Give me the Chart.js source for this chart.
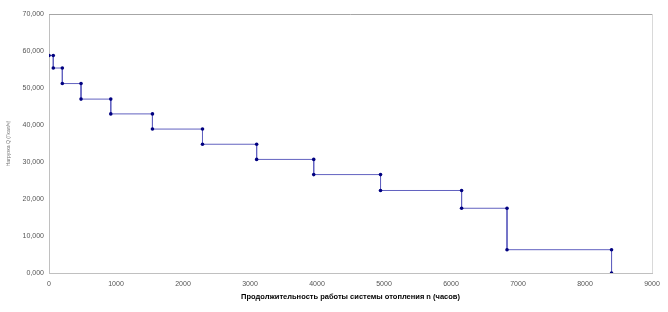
<!DOCTYPE html>
<html>
<head>
<meta charset="utf-8">
<script src="https://cdn.jsdelivr.net/npm/chart.js@4"></script>
<style>
    html, body { margin: 0; padding: 0; background: #fff; }
    #wrap { width: 668px; height: 312px; position: relative; }
</style>
</head>
<body>
<div id="wrap"><canvas id="loadChart"></canvas></div>
<script>
// corners of the step curve
const hours = [0, 64, 64, 199, 199, 478, 478, 922, 922, 1544, 1544, 2291, 2291,
    3099, 3099, 3951, 3951, 4948, 4948, 6158, 6158, 6836, 6836, 8396, 8396];
const loads = [58.8, 58.8, 55.4, 55.4, 51.2, 51.2, 47.0, 47.0, 43.0, 43.0, 38.9, 38.9, 34.8,
    34.8, 30.7, 30.7, 26.6, 26.6, 22.3, 22.3, 17.5, 17.5, 6.3, 6.3, 0];
const xTicks = [0, 1000, 2000, 3000, 4000, 5000, 6000, 7000, 8000, 9000];
const yTicks = [0, 10, 20, 30, 40, 50, 60, 70];

const xTitle = 'Продолжительность работы системы отопления n (часов)';
const yTitle = 'Нагрузка Q (Гкал/ч)';

const points = hours.map((h, i) => ({ x: h, y: loads[i] }));

const frame = {
    id: 'frame',
    afterDraw(chart) {
        const { ctx, chartArea: a } = chart;
        ctx.save();
        ctx.strokeStyle = '#a6a6a6';
        ctx.lineWidth = 1;
        ctx.beginPath();
        ctx.moveTo(a.left, a.top + 0.5);
        ctx.lineTo(a.right + 0.5, a.top + 0.5);
        ctx.stroke();
        ctx.strokeStyle = '#d9d9d9';
        ctx.beginPath();
        ctx.moveTo(a.right + 0.5, a.top);
        ctx.lineTo(a.right + 0.5, a.bottom);
        ctx.stroke();
        ctx.restore();
    }
};

const tickFont = { family: 'Liberation Sans, Arial, sans-serif', size: 7 };

new Chart(document.getElementById('loadChart').getContext('2d'), {
    type: 'scatter',
    data: {
        datasets: [{
            data: points,
            showLine: true,
            borderColor: '#6262c0',
            borderWidth: 1,
            pointRadius: 1.8,
            pointBackgroundColor: '#000080',
            pointBorderColor: '#000080',
            pointBorderWidth: 0,
        }]
    },
    options: {
        responsive: true,
        maintainAspectRatio: false,
        animation: false,
        layout: { padding: { left: 0, top: 14, right: 16, bottom: 0 } },
        plugins: {
            legend: { display: false },
            tooltip: { enabled: false },
        },
        scales: {
            x: {
                type: 'linear',
                min: 0,
                max: 9000,
                afterBuildTicks: (scale) => { scale.ticks = xTicks.map(v => ({ value: v })); },
                afterFit: (scale) => { scale.height = 39; },
                grid: { display: false, drawTicks: false },
                border: { display: true, color: '#c0c0c0', width: 1 },
                ticks: {
                    color: '#555',
                    font: tickFont,
                    padding: 7,
                    maxRotation: 0,
                    callback: (v) => String(v),
                },
                title: {
                    display: true,
                    text: xTitle,
                    color: '#000',
                    font: { family: 'Liberation Sans, Arial, sans-serif', size: 7.5, weight: 'bold' },
                    padding: { top: 4, bottom: 11 },
                },
            },
            y: {
                type: 'linear',
                min: 0,
                max: 70,
                afterBuildTicks: (scale) => { scale.ticks = yTicks.map(v => ({ value: v })); },
                afterFit: (scale) => { scale.width = 49; },
                grid: { display: false, drawTicks: false },
                border: { display: true, color: '#c0c0c0', width: 1 },
                ticks: {
                    color: '#555',
                    font: tickFont,
                    padding: 5,
                    callback: (v) => v.toFixed(3).replace('.', ','),
                },
                title: {
                    display: true,
                    text: yTitle,
                    color: '#777',
                    font: { family: 'Liberation Sans, Arial, sans-serif', size: 5 },
                    padding: { top: 6, bottom: 0 },
                },
            },
        },
    },
    plugins: [frame],
});
</script>
</body>
</html>
